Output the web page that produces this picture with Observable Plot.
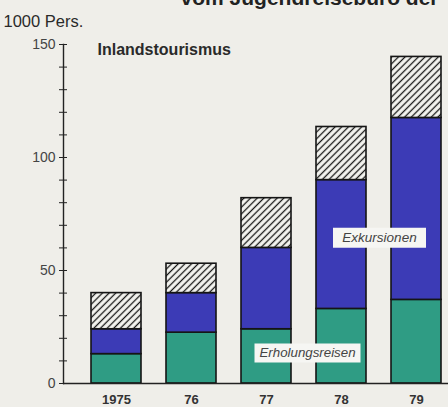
<!DOCTYPE html>
<html><head><meta charset="utf-8">
<script src="https://cdn.jsdelivr.net/npm/d3@7"></script>
<script src="https://cdn.jsdelivr.net/npm/@observablehq/plot@0.6"></script>
<style>
html,body{margin:0;padding:0;background:#efeee9;}
#chart{width:448px;height:407px;overflow:hidden;}
</style></head><body><div id="chart"></div>
<script>
const years = ["1975", "76", "77", "78", "79"];
const erholungsreisen = [13, 22.5, 24, 33, 37];
const exkursionen = [11, 17.5, 36, 57, 80.5];
const sonstige = [16, 13, 22, 23.5, 27];
const segmentNames = ["Erholungsreisen", "Exkursionen", "Sonstige"];
const yTicks = d3.range(0, 151, 10);
const titleText = "vom Jugendreisebüro der";
const unitText = "1000 Pers.";
const panelText = "Inlandstourismus";
const labelTexts = ["Exkursionen", "Erholungsreisen"];
const labelYears = ["78", "77"];
const labelValues = [64.5, 13.5];

const series = [erholungsreisen, exkursionen, sonstige];
const table = [];
segmentNames.forEach((s, i) => years.forEach((y, j) => table.push({year: y, segment: s, value: series[i][j]})));
const labels = labelTexts.map((t, i) => ({t, year: labelYears[i], v: labelValues[i]}));

const font = "'Liberation Sans', Arial, sans-serif";
const boxSymbol = (w, h) => ({draw(ctx) { ctx.rect(-w / 2, -h / 2, w, h); }});

const chart = Plot.plot({
  width: 448,
  height: 407,
  marginTop: 44,
  marginBottom: 24,
  marginLeft: 63,
  marginRight: 0,
  style: {background: "#efeee9", fontFamily: font, color: "#222"},
  x: {domain: years, paddingInner: 0.33, paddingOuter: 0.2, align: 0.8, label: null},
  y: {domain: [0, 150], label: null},
  color: {type: "ordinal", domain: segmentNames, range: ["#2f9c84", "#3c3bb6", "url(#hatch)"]},
  marks: [
    Plot.barY(table, {x: "year", y: "value", fill: "segment", stroke: "#151515", strokeWidth: 1.6}),
    Plot.ruleY([0], {stroke: "#222", strokeWidth: 1.6}),
    Plot.frame({anchor: "left", stroke: "#222", strokeWidth: 1.4}),
    Plot.axisY({ticks: yTicks, tickFormat: d => d % 50 === 0 ? d : "", tickSize: 4, tickPadding: 4, fontSize: 14, fill: "#444", stroke: "#222"}),
    Plot.axisY({ticks: yTicks, tickFormat: () => "", tickSize: -4, stroke: "#222"}),
    Plot.axisX({tickSize: 0, tickPadding: 11, fontSize: 13, fontWeight: "bold", fill: "#333"}),
    Plot.text([panelText], {frameAnchor: "top-left", lineAnchor: "middle", dx: 34, dy: 5, textAnchor: "start", fontSize: 16, fontWeight: "bold", fill: "#2a2a2a"}),
    Plot.text([unitText], {frameAnchor: "top-left", lineAnchor: "middle", dx: -60, dy: -22.5, textAnchor: "start", fontSize: 16.5, fill: "#2a2a2a"}),
    Plot.text([titleText], {frameAnchor: "top-right", lineAnchor: "middle", dx: -10, dy: -46, textAnchor: "end", fontSize: 21, fontWeight: "bold", fill: "#222"}),
    Plot.dot([labels[0]], {x: "year", y: "v", dx: 38, r: 1, symbol: boxSymbol(93, 20), fill: "#f6f6f3", stroke: "none"}),
    Plot.dot([labels[1]], {x: "year", y: "v", dx: 41, r: 1, symbol: boxSymbol(106, 19), fill: "#f6f6f3", stroke: "none"}),
    Plot.text([labels[0]], {x: "year", y: "v", text: "t", dx: 38, fontSize: 13.5, fontStyle: "italic", fill: "#444"}),
    Plot.text([labels[1]], {x: "year", y: "v", text: "t", dx: 41, fontSize: 13.3, fontStyle: "italic", fill: "#444"})
  ]
});

document.getElementById("chart").appendChild(chart);

const svg = d3.select(chart.tagName.toLowerCase() === "svg" ? chart : chart.querySelector("svg"));
const defs = svg.insert("defs", ":first-child");
const s = 4.7;
const pat = defs.append("pattern").attr("id", "hatch").attr("patternUnits", "userSpaceOnUse")
  .attr("width", s).attr("height", s).attr("patternTransform", "rotate(45)");
pat.append("rect").attr("width", s).attr("height", s).attr("fill", "#f5f5f1");
pat.append("line").attr("x1", s / 2).attr("y1", 0).attr("x2", s / 2).attr("y2", s).attr("stroke", "#151515").attr("stroke-width", 1.3);
</script>
</body></html>
